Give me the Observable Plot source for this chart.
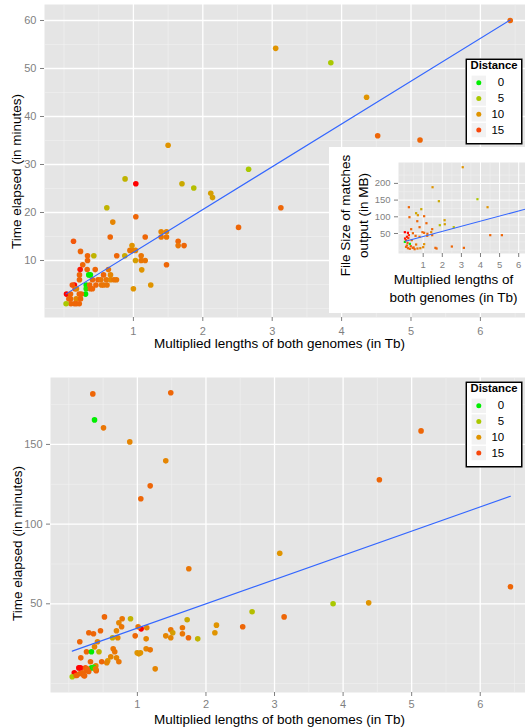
<!DOCTYPE html>
<html><head><meta charset="utf-8">
<script src="https://cdn.jsdelivr.net/npm/d3@7"></script>
<script src="https://cdn.jsdelivr.net/npm/@observablehq/plot@0.6"></script>
<style>
body{margin:0;background:#fff;}
#wrap{position:relative;width:525px;height:727px;overflow:hidden;font-family:"Liberation Sans",Arial,Helvetica,sans-serif;}
</style></head><body><div id="wrap"></div>
<script>
// ---------- data ----------
const xLabelText = "Multiplied lengths of both genomes (in Tb)";
const yLabelText = "Time elapsed (in minutes)";
const insetXLabelText = "Multiplied lengths of\nboth genomes (in Tb)";
const insetYLabelText = "File Size of matches\noutput (in MB)";
const legendTitle = "Distance";
const legendDistances = [0, 5, 10, 15];

// top panel: time elapsed (minutes)
const topX = [6.43,3.05,3.845,4.36,4.52,5.13,1.50,0.88,2.66,1.035,1.70,1.87,2.115,2.14,0.617,1.035,0.703,2.515,3.125,0.137,0.666,1.17,1.40,1.477,1.40,1.477,1.645,1.645,1.73,0.238,0.95,0.98,1.03,0.98,0.76,0.876,1.112,1.03,1.112,1.17,1.12,1.477,1.0,1.25,0.43,0.339,0.339,0.27,0.233,0.334,0.45,0.64,0.223,0.223,0.357,0.38,0.57,0.67,0.41,0.49,0.53,0.61,0.67,0.72,0.756,0.15,0.12,0.16,0.32,0.32,0.37,0.38,0.46,0.54,0.57,0.62,0.41,0.31,0.25,0.22,0.036,0.094,0.07,0.094,0.176,0.238,0.10,0.15,0.18,0.22,0.03,0.18];
const topY = [60,54.2,51.2,44.0,36.0,35.1,34.0,27.0,29.0,26.0,26.0,25.1,24.0,23.1,21.0,19.1,18.0,16.9,21.0,14.0,14.9,14.9,16.0,16.0,14.9,14.9,14.0,13.1,13.1,11.9,12.1,12.1,12.1,13.1,11.0,11.0,11.0,10.0,10.0,10.0,8.05,9.1,4.1,4.9,11.0,11.0,10.0,9.1,8.1,8.1,8.1,8.1,7.0,6.0,7.0,7.0,7.0,7.0,6.0,6.0,6.0,6.0,6.0,6.0,6.0,4.9,4.9,4.1,4.9,4.1,4.9,4.1,4.9,4.9,4.9,4.9,4.1,3.0,3.0,3.0,3.0,3.0,2.0,2.0,2.0,2.0,1.0,1.0,1.0,1.0,1.0,4.1];
const topD = [13,10,5,10,13,13,10,7,5,18,8,6,9,9,7,13,11,13,13,14,13,13,11,11,12,12,13,12,13,13,12,12,11,10,13,8,12,9,12,12,10,13,10,10,7,13,13,13,17,13,13,12,13,13,0,0,13,11,13,13,12,12,11,12,12,18,14,14,0,1,13,13,13,12,12,12,13,0,13,13,18,13,13,13,11,13,13,13,13,13,5,11];
// fitted line endpoints
const topFitX = [0.03, 6.43];
const topFitY = [3.05, 60.1];

// bottom panel: time elapsed (minutes)
const botX = [0.35,0.375,0.506,0.889,1.487,1.414,1.187,1.05,5.137,4.529,3.076,6.44,3.854,4.373,3.14,1.75,2.673,2.536,2.153,2.13,1.88,1.726,1.657,1.657,1.745,1.487,1.516,1.414,1.487,1.26,1.137,1.128,1.128,1.187,0.997,1.045,1.02,1.055,1.011,0.968,0.9,0.778,0.73,0.77,0.695,0.637,0.714,0.52,0.462,0.36,0.292,0.16,0.418,0.375,0.258,0.33,0.44,0.647,0.67,0.695,0.612,0.568,0.554,0.48,0.73,0.175,0.316,0.394,0.146,0.17,0.243,0.33,0.36,0.394,0.258,0.2,0.08,0.117,0.23,0.05,0.4,0.29,0.156,0.108,0.218,0.268,0.39];
const botY = [181.7,165.4,160.4,151.6,182.4,139.7,124.0,115.9,158.5,127.8,81.7,60.7,50.0,50.6,41.8,72.0,45.0,35.6,36.6,31.8,28.0,40.0,35.0,31.2,28.7,33.7,31.8,29.9,28.7,9.2,35.0,28.0,21.8,21.1,19.3,19.3,18.6,34.3,35.6,29.9,40.6,40.6,38.1,35.6,33.1,28.7,28.7,41.8,33.1,31.2,31.8,26.2,26.2,23.0,19.9,19.9,19.9,21.8,19.9,16.1,16.8,14.2,13.0,13.6,13.6,16.1,13.6,11.1,9.8,9.8,9.8,9.8,10.2,8.6,8.0,6.7,6.7,5.2,4.8,4.2,8.0,7.5,6.1,5.0,5.0,9.2,9.2];
const botD = [13,0,12,11,13,11,13,13,13,13,10,13,5,10,13,12,6,13,10,10,7,8,12,12,13,12,9,11,11,11,11,11,11,12,10,10,10,18,12,13,7,12,11,12,11,8,11,13,13,13,13,13,11,11,13,0,7,12,12,11,11,10,11,13,12,13,13,11,18,18,14,0,1,13,13,13,18,14,13,5,13,13,13,13,13,13,12];
const botFitX = [0.05, 6.44];
const botFitY = [20.3, 117.5];

// inset: file size of matches output (MB)
const insX = [3.07,1.49,1.82,3.84,4.37,0.9,0.25,0.63,0.72,1.05,0.28,2.12,2.13,1.87,2.6,0.69,1.17,0.81,1.47,0.37,0.04,0.2,0.25,0.15,0.22,0.96,1.05,1.22,1.47,4.51,5.12,1.42,0.46,0.6,0.81,1.21,0.04,0.3,0.63,1.05,1.64,1.7,2.5,3.13,0.1,0.2,0.3,0.45,0.55,0.7,0.85,1.0,0.15,0.35,0.5,0.1,0.05,0.4,0.18];
const insY = [248.5,188.6,146.7,152.7,128.7,122.8,128.7,110.8,104.8,101.8,98.8,89.8,77.8,74.9,68.9,86.8,80.8,68.9,62.9,62.9,53.9,52,45,40,36,53.9,52,49.1,45,45,45,53.9,50.9,43,40,43,25,19,17,18,7,5,11,7,10,6,4,7,3,5,6,9,14,12,8,30,35,30,22];
const insD = [10,10,8,5,10,8,13,8,10,13,13,9,9,6,6,13,13,13,13,13,18,18,16,17,16,13,13,13,13,13,13,11,13,13,12,12,0,0,12,10,13,13,13,13,13,13,13,13,13,12,11,11,13,14,13,15,17,13,14];
const insFitX = [0.07, 6.44];
const insFitY = [27, 124.2];

// ---------- styling ----------
const FONT = '"Liberation Sans", Arial, Helvetica, sans-serif';
const GREY = "#7f7f7f";
const colorOpts = {type: "linear", domain: [0, 5, 10, 15, 18],
  range: ["#00ee00", "#aac800", "#e09400", "#f8480c", "#ff0000"], interpolate: "rgb"};
const wrap = document.getElementById("wrap");

function panelPlot(o) {
  const data = o.xs.map((x, i) => ({x, y: o.ys[i], d: o.ds[i]}));
  const fit = o.fitX.map((x, i) => ({x, y: o.fitY[i]}));
  const marks = [
    Plot.frame({fill: "#E5E5E5"}),
    Plot.gridX(o.xMinor, {stroke: "#F2F2F2", strokeOpacity: 1, strokeWidth: o.minorW}),
    Plot.gridY(o.yMinor, {stroke: "#F2F2F2", strokeOpacity: 1, strokeWidth: o.minorW}),
    Plot.gridX(o.xTicks, {stroke: "#FFFFFF", strokeOpacity: 1, strokeWidth: o.majorW}),
    Plot.gridY(o.yTicks, {stroke: "#FFFFFF", strokeOpacity: 1, strokeWidth: o.majorW}),
    Plot.axisX(o.xTicks, {tickSize: 4, tickPadding: o.xPad, fontSize: o.tickFont, color: GREY, label: null}),
    Plot.axisY(o.yTicks, {tickSize: 4, tickPadding: o.yPad, fontSize: o.tickFont, color: GREY, label: null}),
    Plot.dot(data, {x: "x", y: "y", fill: "d", r: o.r, symbol: o.symbol}),
    Plot.line(fit, {x: "x", y: "y", stroke: "#3366FF", strokeWidth: 1.1, clip: true}),
    Plot.text([o.xLabel], {text: d => d, frameAnchor: "bottom", dx: o.xLabelDx, dy: o.xLabelDy,
      fontSize: 13.5, fill: "#000", lineAnchor: "middle", textAnchor: "middle", lineHeight: 1.35}),
    Plot.text([o.yLabel], {text: d => d, frameAnchor: "left", rotate: -90, dx: o.yLabelDx, dy: o.yLabelDy,
      fontSize: 13.5, fill: "#000", lineAnchor: "middle", textAnchor: "middle", lineHeight: 1.35})
  ];
  const svg = Plot.plot({
    width: o.width, height: o.height,
    marginLeft: o.mL, marginRight: 0, marginTop: o.mT, marginBottom: o.mB,
    x: {domain: o.xDomain}, y: {domain: o.yDomain},
    color: colorOpts,
    style: {fontFamily: FONT, background: o.bg, color: GREY, overflow: "visible"},
    marks
  });
  svg.style.position = "absolute";
  svg.style.left = o.left + "px";
  svg.style.top = o.top + "px";
  wrap.appendChild(svg);
}

function legendPlot(left, top) {
  const svg = Plot.plot({
    width: 57, height: 86, margin: 0,
    x: {axis: null}, y: {domain: [0, 15], range: [24.3, 71.6], axis: null},
    color: colorOpts,
    style: {fontFamily: FONT, background: "white", overflow: "visible"},
    marks: [
      Plot.frame({fill: "white", stroke: "#000", strokeWidth: 1.5, inset: 0.75}),
      Plot.text([legendTitle], {text: d => d, frameAnchor: "top-left", dx: 5, dy: 7, fontSize: 11.3,
        fontWeight: "bold", fill: "#000", textAnchor: "start", lineAnchor: "middle"}),
      Plot.dot(legendDistances, {y: d => d, frameAnchor: "left", dx: 13.3, symbol: "square", r: 8.1, fill: "#F2F2F2"}),
      Plot.dot(legendDistances, {y: d => d, frameAnchor: "left", dx: 13.3, r: 2.5, fill: d => d}),
      Plot.text(legendDistances, {y: d => d, text: d => String(d), frameAnchor: "left", dx: 38.7,
        textAnchor: "end", fontSize: 11.5, fill: "#000"})
    ]
  });
  svg.style.position = "absolute";
  svg.style.left = left + "px";
  svg.style.top = top + "px";
  wrap.appendChild(svg);
}

const ticks16 = [1, 2, 3, 4, 5, 6];
const minor16 = [0, 0.5, 1.5, 2.5, 3.5, 4.5, 5.5, 6.5];

// top panel
panelPlot({
  xs: topX, ys: topY, ds: topD, fitX: topFitX, fitY: topFitY, left: 0, top: 0, width: 525, height: 355,
  mL: 44, mT: 4, mB: 38, xDomain: [-0.281, 6.65], yDomain: [-1.875, 63.33],
  xTicks: ticks16, xMinor: minor16, yTicks: [10, 20, 30, 40, 50, 60], yMinor: [0, 5, 15, 25, 35, 45, 55],
  xPad: 6, yPad: 4, tickFont: 11, r: 2.8, symbol: "circle", majorW: 1.3, minorW: 0.6, bg: "white",
  xLabel: xLabelText, yLabel: yLabelText, xLabelDx: -5.5, xLabelDy: 25, yLabelDx: -29, yLabelDy: 10.5
});
// inset
panelPlot({
  xs: insX, ys: insY, ds: insD, fitX: insFitX, fitY: insFitY, left: 329, top: 147, width: 196, height: 166,
  mL: 69, mT: 15, mB: 60, xDomain: [-0.293, 6.356], yDomain: [-9.9, 262.6],
  xTicks: ticks16, xMinor: minor16, yTicks: [50, 100, 150, 200], yMinor: [0, 25, 75, 125, 175, 225],
  xPad: 4, yPad: 4, tickFont: 9.5, r: 1.25, symbol: "square", majorW: 1, minorW: 0.5, bg: "white",
  xLabel: insetXLabelText, yLabel: insetYLabelText, xLabelDx: -8.5, xLabelDy: 34, yLabelDx: -45, yLabelDy: 7.5
});
legendPlot(465, 58);

// bottom panel
panelPlot({
  xs: botX, ys: botY, ds: botD, fitX: botFitX, fitY: botFitY, left: 0, top: 355, width: 525, height: 372,
  mL: 50, mT: 22, mB: 35, xDomain: [-0.267, 6.66], yDomain: [-5.65, 192],
  xTicks: ticks16, xMinor: minor16, yTicks: [50, 100, 150], yMinor: [0, 25, 75, 125, 175],
  xPad: 4, yPad: 4, tickFont: 11, r: 2.8, symbol: "circle", majorW: 1.3, minorW: 0.6, bg: "white",
  xLabel: xLabelText, yLabel: yLabelText, xLabelDx: -8.5, xLabelDy: 25.5, yLabelDx: -34, yLabelDy: 8.5
});
legendPlot(465, 381);
</script></body></html>
